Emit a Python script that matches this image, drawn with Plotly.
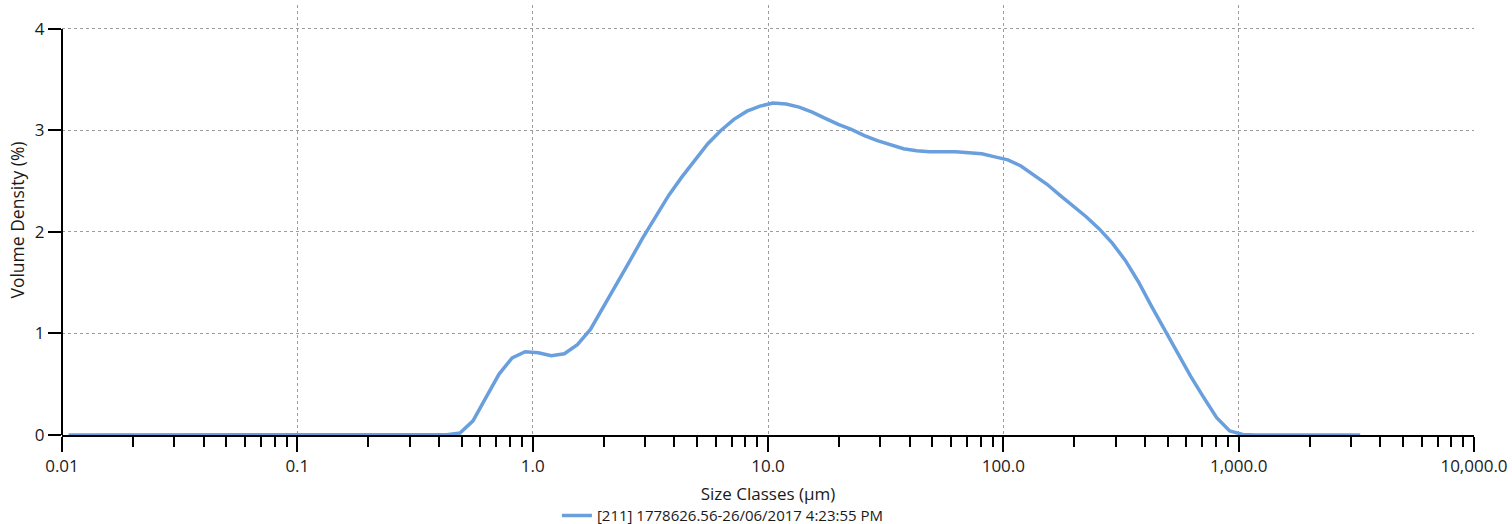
import plotly.graph_objects as go

# Size classes (µm) – centre of each Mastersizer size class
size_um = [
    0.01066, 0.01211, 0.01376, 0.01563, 0.01776, 0.02018, 0.02293, 0.02605, 0.02960, 0.03363,
    0.03821, 0.04341, 0.04932, 0.05604, 0.06367, 0.07234, 0.08219, 0.09338, 0.1061, 0.1205,
    0.1369, 0.1556, 0.1768, 0.2009, 0.2282, 0.2593, 0.2946, 0.3347, 0.3803, 0.4320,
    0.4909, 0.5577, 0.6337, 0.7200, 0.8180, 0.9294, 1.056, 1.200, 1.363, 1.549,
    1.760, 1.999, 2.271, 2.581, 2.932, 3.331, 3.784, 4.300, 4.885, 5.550,
    6.306, 7.164, 8.140, 9.248, 10.51, 11.94, 13.56, 15.41, 17.51, 19.89,
    22.60, 25.68, 29.17, 33.15, 37.66, 42.79, 48.62, 55.24, 62.76, 71.30,
    81.01, 92.04, 104.6, 118.8, 135.0, 153.4, 174.3, 198.0, 224.9, 255.6,
    290.4, 329.9, 374.8, 425.9, 483.9, 549.8, 624.6, 709.7, 806.3, 916.1,
    1041, 1183, 1344, 1527, 1735, 1971, 2239, 2544, 2891, 3284,
]

# Volume density (%)
volume_density = [
    0, 0, 0, 0, 0, 0, 0, 0, 0, 0,
    0, 0, 0, 0, 0, 0, 0, 0, 0, 0,
    0, 0, 0, 0, 0, 0, 0, 0, 0, 0.003,
    0.02, 0.14, 0.37, 0.60, 0.76, 0.82, 0.81, 0.78, 0.80, 0.89,
    1.04, 1.26, 1.48, 1.71, 1.94, 2.15, 2.36, 2.54, 2.71, 2.87,
    3.00, 3.11, 3.19, 3.24, 3.27, 3.26, 3.23, 3.18, 3.12, 3.06,
    3.01, 2.95, 2.90, 2.86, 2.82, 2.80, 2.79, 2.79, 2.79, 2.78,
    2.77, 2.74, 2.71, 2.65, 2.56, 2.47, 2.36, 2.26, 2.15, 2.03,
    1.89, 1.72, 1.51, 1.27, 1.04, 0.80, 0.58, 0.37, 0.17, 0.04,
    0.005, 0, 0, 0, 0, 0, 0, 0, 0, 0,
]

series_name = "[211] 1778626.56-26/06/2017 4:23:55 PM"

x_tickvals = [0.01, 0.1, 1, 10, 100, 1000, 10000]
x_ticktext = ["0.01", "0.1", "1.0", "10.0", "100.0", "1,000.0", "10,000.0"]
x_minor_ticks = [m * d for d in [0.01, 0.1, 1, 10, 100, 1000] for m in range(2, 10)]
y_tickvals = [0, 1, 2, 3, 4]

FONT = "Open Sans"
TXT = "#1a1a1a"
GRID = "#9c9c9c"

fig = go.Figure()
fig.add_trace(go.Scatter(
    x=size_um, y=volume_density, mode="lines", name=series_name,
    line=dict(color="#6a9fde", width=3.5),
))

fig.update_layout(
    width=1512, height=524,
    margin=dict(l=62, r=38, t=5, b=89, autoexpand=False),
    paper_bgcolor="white", plot_bgcolor="white",
    font=dict(family=FONT, color=TXT, size=17),
    showlegend=True,
    legend=dict(orientation="h", x=0.3505, xanchor="left", y=-0.188, yanchor="middle",
                font=dict(size=15, family=FONT, color=TXT), bgcolor="rgba(0,0,0,0)"),
    xaxis=dict(
        type="log", range=[-2, 4], autorange=False,
        tickvals=x_tickvals, ticktext=x_ticktext,
        ticks="outside", ticklen=15, tickwidth=2, tickcolor="black",
        showline=True, linecolor="black", linewidth=2,
        showgrid=True, gridcolor=GRID, gridwidth=1, griddash="dot",
        zeroline=False,
        tickfont=dict(size=17, family=FONT, color=TXT),
        minor=dict(tickvals=x_minor_ticks, ticks="outside", ticklen=10, tickwidth=2,
                   tickcolor="black", showgrid=False),
        title=dict(text="Size Classes (µm)", font=dict(size=17, family=FONT, color=TXT), standoff=12),
    ),
    yaxis=dict(
        range=[0, 4.236], autorange=False,
        tickvals=y_tickvals,
        ticks="outside", ticklen=13, tickwidth=2, tickcolor="black",
        showline=False,
        showgrid=True, gridcolor=GRID, gridwidth=1, griddash="dot",
        zeroline=False,
        tickfont=dict(size=17, family=FONT, color=TXT),
        title=dict(text="Volume Density (%)", font=dict(size=17.5, family=FONT, color=TXT), standoff=5),
    ),
    shapes=[dict(type="line", xref="paper", yref="y", x0=0, x1=0, y0=0, y1=4,
                 line=dict(color="black", width=2), layer="above")],
)

fig.write_html("out.html")
